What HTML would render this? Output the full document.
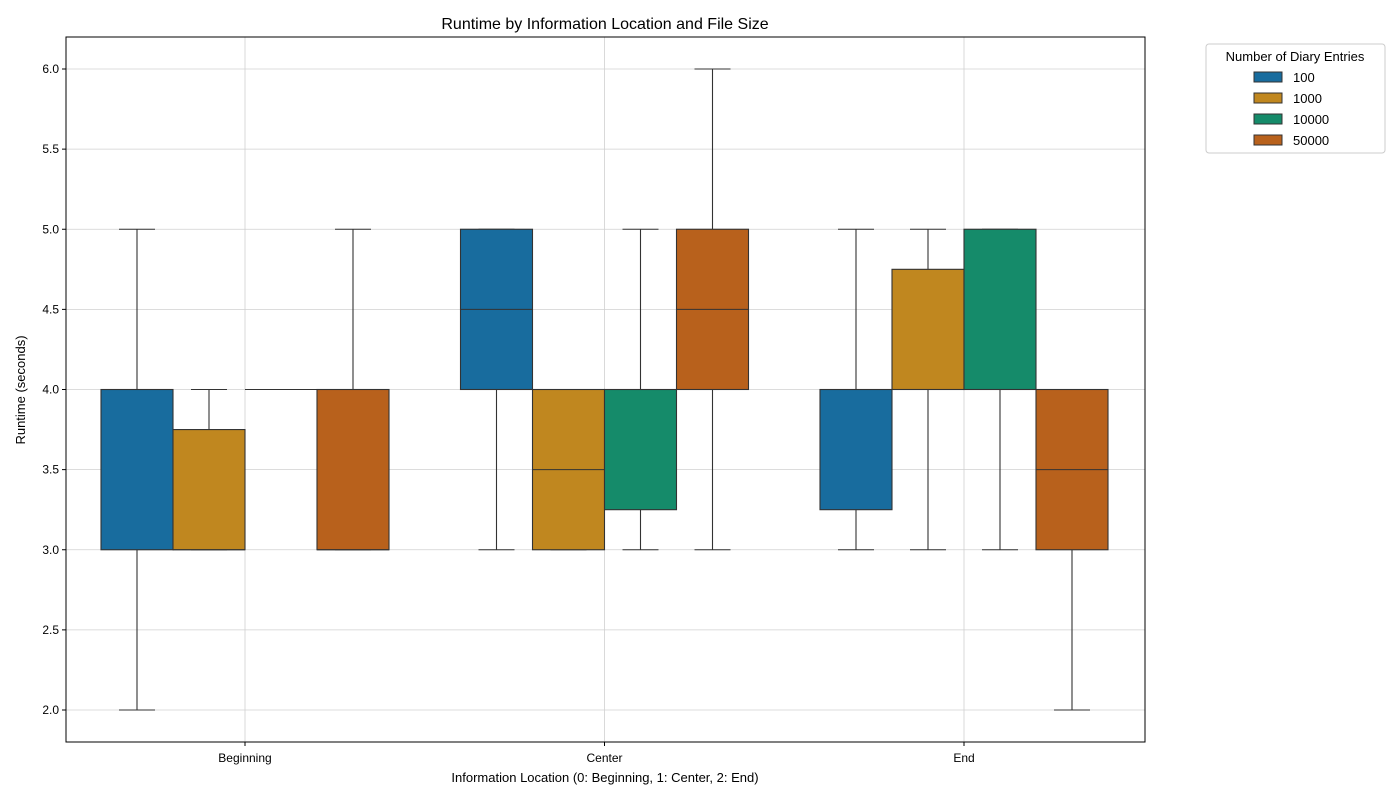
<!DOCTYPE html>
<html><head><meta charset="utf-8"><style>
body{margin:0;background:#fff;font-family:"Liberation Sans","DejaVu Sans",sans-serif}
</style></head><body>
<svg id="chart" width="1400" height="800" xmlns="http://www.w3.org/2000/svg" font-family="Liberation Sans, DejaVu Sans, sans-serif">
<rect width="1400" height="800" fill="#fff"/>
<text x="605" y="29" text-anchor="middle" font-size="16">Runtime by Information Location and File Size</text>
<g id="grid"></g><g id="boxes"></g><g id="axes"></g>
<text x="605" y="782" text-anchor="middle" font-size="13">Information Location (0: Beginning, 1: Center, 2: End)</text>
<text transform="translate(25,390) rotate(-90)" text-anchor="middle" font-size="13">Runtime (seconds)</text>
<g id="legend">
<rect x="1206" y="44" width="179" height="109" fill="#fff" stroke="#ccc" rx="3"/>
<text x="1295" y="61" text-anchor="middle" font-size="13">Number of Diary Entries</text>
</g>
</svg>
<script>
const categories=["Beginning","Center","End"];
const series=["100","1000","10000","50000"];
const colors=["#186c9e","#c0871f","#158b6a","#b8611c"];
// [whislo, q1, median, q3, whishi] per category per series
const statsBeginning=[[2,3,4,4,5],[3,3,3,3.75,4],[4,4,4,4,4],[3,3,3,4,5]];
const statsCenter=[[3,4,4.5,5,5],[3,3,3.5,4,4],[3,3.25,4,4,5],[3,4,4.5,5,6]];
const statsEnd=[[3,3.25,4,4,5],[3,4,4,4.75,5],[3,4,4,5,5],[2,3,3.5,4,4]];
const yTicks=[2.0,2.5,3.0,3.5,4.0,4.5,5.0,5.5,6.0];
const NS="http://www.w3.org/2000/svg";
const L=66,R=1145,T=37,B=742;
const y=v=>710-(v-2)*160.25;
const xc=i=>245+i*359.5;
const BW=72;
function mk(tag,attrs,parent){const e=document.createElementNS(NS,tag);for(const k in attrs)e.setAttribute(k,attrs[k]);parent.appendChild(e);return e;}
const grid=document.getElementById('grid'),axes=document.getElementById('axes'),boxes=document.getElementById('boxes');
yTicks.forEach(t=>{
 const g=mk('line',{x1:L,x2:R,y1:y(t),y2:y(t),stroke:'#d0d0d0','stroke-width':0.8},grid);
 
 
 mk('line',{x1:L-4,x2:L,y1:y(t),y2:y(t),stroke:'#000'},axes);
 const tx=mk('text',{x:L-7,y:y(t)+4,'text-anchor':'end','font-size':12},axes);tx.textContent=t.toFixed(1);
 
 
});
categories.forEach((c,i)=>{
 const g=mk('line',{x1:xc(i),x2:xc(i),y1:T,y2:B,stroke:'#d0d0d0','stroke-width':0.8},grid);
 
 
 mk('line',{x1:xc(i),x2:xc(i),y1:B,y2:B+4,stroke:'#000'},axes);
 const tx=mk('text',{x:xc(i),y:B+20,'text-anchor':'middle','font-size':12},axes);tx.textContent=c;
 
 
});
const fr=mk('rect',{x:L,y:T,width:R-L,height:B-T,fill:'none',stroke:'#000','stroke-width':1},axes);


const all=[statsBeginning,statsCenter,statsEnd];
all.forEach((cat,i)=>{cat.forEach((s,j)=>{
 const cx=xc(i)+(j-1.5)*BW,x0=cx-BW/2;
 const g=mk('g',{},boxes);
 
 
 const st={stroke:'#333','stroke-width':1.1};
 mk('line',{x1:cx,x2:cx,y1:y(s[0]),y2:y(s[1]),...st},g);
 mk('line',{x1:cx,x2:cx,y1:y(s[3]),y2:y(s[4]),...st},g);
 mk('line',{x1:cx-18,x2:cx+18,y1:y(s[0]),y2:y(s[0]),...st},g);
 mk('line',{x1:cx-18,x2:cx+18,y1:y(s[4]),y2:y(s[4]),...st},g);
 mk('rect',{x:x0,y:y(s[3]),width:BW,height:Math.max(0,y(s[1])-y(s[3])),fill:colors[j],...st},g);
 mk('line',{x1:x0,x2:x0+BW,y1:y(s[2]),y2:y(s[2]),...st},g);
});});
const lg=document.getElementById('legend');
series.forEach((s,j)=>{
 const yy=77+j*21;
 const r=mk('rect',{x:1254,y:yy-5,width:28,height:10,fill:colors[j],stroke:'#333'},lg);
 
 
 const t=mk('text',{x:1293,y:yy+5,'font-size':13},lg);t.textContent=s;
 
 
});
</script>
</body></html>
